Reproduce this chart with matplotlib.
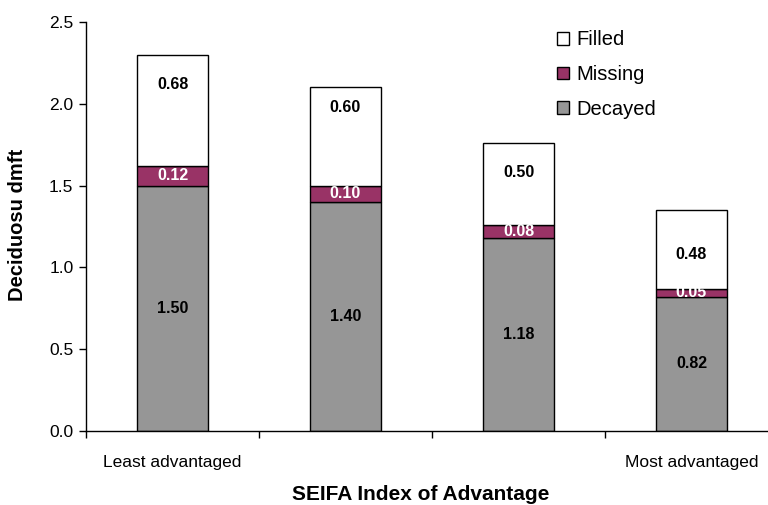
import numpy as np
import matplotlib.pyplot as plt

plt.rcParams['font.family'] = ['Liberation Sans', 'DejaVu Sans']

# dmft components by SEIFA quartile
groups = ['Least advantaged', '', '', 'Most advantaged']
decayed = [1.50, 1.40, 1.18, 0.82]
missing = [0.12, 0.10, 0.08, 0.05]
filled = [0.68, 0.60, 0.50, 0.48]

decayed_color = '#969696'
missing_color = '#993366'
filled_color = '#ffffff'

fig = plt.figure(figsize=(7.68, 5.05), dpi=100)
ax = fig.add_axes([86 / 768, 74 / 505, 692 / 768, 409 / 505])

x = np.arange(len(groups))
width = 0.405
dec = np.array(decayed)
mis = np.array(missing)
fil = np.array(filled)

b1 = ax.bar(x, dec, width, color=decayed_color, edgecolor='black', linewidth=1, label='Decayed')
b2 = ax.bar(x, mis, width, bottom=dec, color=missing_color, edgecolor='black', linewidth=1, label='Missing')
b3 = ax.bar(x, fil, width, bottom=dec + mis, color=filled_color, edgecolor='black', linewidth=1, label='Filled')

# value labels
for i in range(len(x)):
    ax.text(x[i], dec[i] / 2, f'{dec[i]:.2f}', ha='center', va='center',
            fontsize=11.5, fontweight='bold', color='black')
    ax.text(x[i], dec[i] + mis[i] / 2, f'{mis[i]:.2f}', ha='center', va='center',
            fontsize=11.5, fontweight='bold', color='white')

# filled labels sit a little off the segment centre
filled_shift = [0.16, 0.18, 0.07, -0.03]
for i in range(len(x)):
    ax.text(x[i], dec[i] + mis[i] + fil[i] / 2 + filled_shift[i], f'{fil[i]:.2f}',
            ha='center', va='center', fontsize=11.5, fontweight='bold', color='black')

ax.set_xlim(-0.5, len(x) - 0.5)
ax.set_ylim(0, 2.5)
ax.set_yticks(np.arange(0, 2.51, 0.5))
ax.set_yticklabels([f'{v:.1f}' for v in np.arange(0, 2.51, 0.5)], fontsize=12.5)

# ticks on category boundaries, labels under the bars
ax.set_xticks(np.arange(-0.5, len(x), 1.0))
ax.set_xticklabels([])
ax.tick_params(axis='x', which='major', direction='out', length=5, width=1)
ax.set_xticks(x, minor=True)
ax.set_xticklabels(groups, minor=True, fontsize=12.5)
ax.tick_params(axis='x', which='minor', length=0, pad=17)
ax.tick_params(axis='y', direction='out', length=5, width=1, pad=4)

for s in ['top', 'right']:
    ax.spines[s].set_visible(False)
for s in ['left', 'bottom']:
    ax.spines[s].set_linewidth(1)

ax.set_xlabel('SEIFA Index of Advantage', fontsize=15, fontweight='bold')
ax.set_ylabel('Deciduosu dmft', fontsize=14.5, fontweight='bold')
ax.xaxis.set_label_coords(0.483, -0.132)
ax.yaxis.set_label_coords(-0.085, 0.504)

leg = ax.legend([b3, b2, b1], ['Filled', 'Missing', 'Decayed'], loc='upper left',
                bbox_to_anchor=(0.654, 1.024), frameon=False, fontsize=14.5,
                handlelength=0.6, handleheight=0.6, handletextpad=0.4,
                labelspacing=0.78)

fig.savefig('out.png', dpi=100)
